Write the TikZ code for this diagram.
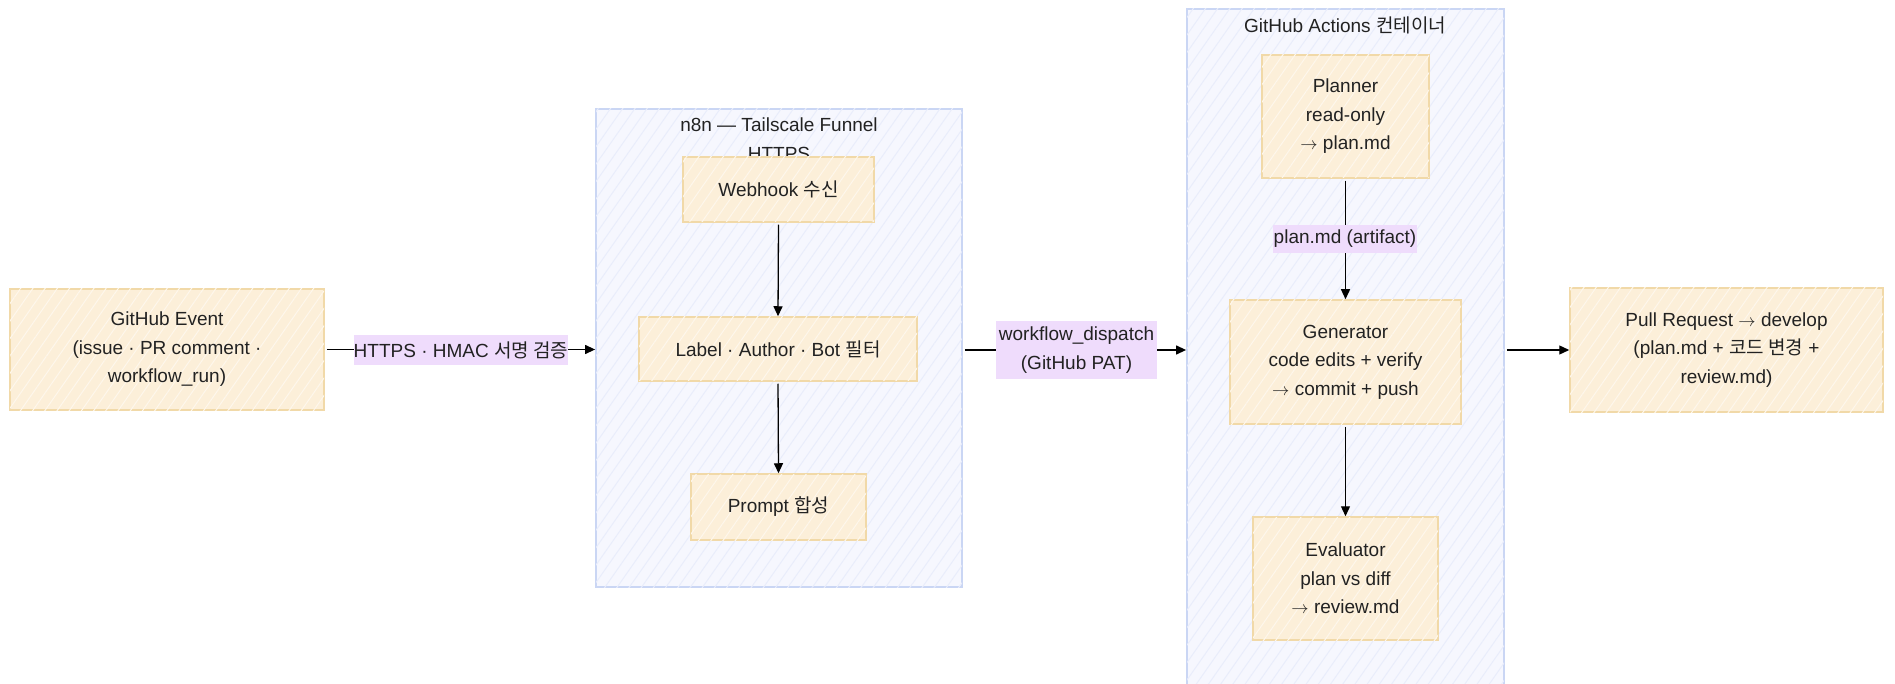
\documentclass[tikz,border=0pt]{standalone}
\usepackage{fontspec}
\setmainfont{Liberation Sans}
\newfontfamily\kr{Noto Sans CJK KR}
\usetikzlibrary{arrows.meta,patterns.meta}
\definecolor{boxfill}{HTML}{FCEFD9}
\definecolor{boxline}{HTML}{F1D9A8}
\definecolor{boxhatch}{HTML}{FEF7EC}
\definecolor{grpfill}{HTML}{F6F7FE}
\definecolor{grpline}{HTML}{CAD6F4}
\definecolor{grphatch}{HTML}{E9EDFB}
\definecolor{lblfill}{HTML}{EFDCFC}
\definecolor{txt}{HTML}{222222}
\newcommand\mytext{\fontsize{19}{28.5}\selectfont}
\newcommand\rarr{$\rightarrow$}
\tikzset{
  procbox/.style={draw=boxline, line width=1.5pt, fill=boxfill,
    postaction={pattern={Lines[angle=55,distance=10pt,line width=1pt]}, pattern color=boxhatch},
    align=center, inner sep=0pt, font=\mytext, text=txt},
  grpbox/.style={draw=grpline, line width=1.8pt, fill=grpfill,
    postaction={pattern={Lines[angle=55,distance=10pt,line width=1pt]}, pattern color=grphatch},
    inner sep=0pt},
  grptitle/.style={align=center, font=\mytext, text=txt, inner sep=0pt},
  edgelbl/.style={fill=lblfill, inner sep=0pt, align=center, font=\mytext, text=txt},
  arr/.style={draw=black, line width=1.3pt, -{Triangle[length=10pt,width=9pt]}, shorten <=2pt}
}
\begin{document}
\begin{tikzpicture}[x=1pt,y=-1pt]
\clip (0,0) rectangle (1895,684);
\fill[white] (0,0) rectangle (1895,684);

% containers
\node[grpbox, minimum width=366pt, minimum height=478pt] (n8n) at (779,348) {};
\node[grptitle] (n8nt) at (779,139) {n8n — Tailscale Funnel\\HTTPS};
\node[grpbox, minimum width=317pt, minimum height=691pt] (act) at (1345.5,354.5) {};
\node[grptitle] (actt) at (1345,25) {GitHub Actions {\kr 컨테이너}};

% nodes
\node[procbox, minimum width=314pt, minimum height=121pt] (ev) at (167,349.5)
  {GitHub Event\\(issue · PR comment ·\\workflow\_run)};
\node[procbox, minimum width=191pt, minimum height=65pt] (wh) at (778.5,189.5)
  {Webhook {\kr 수신}};
\node[procbox, minimum width=278pt, minimum height=64pt] (lab) at (778,349)
  {Label · Author · Bot {\kr 필터}};
\node[procbox, minimum width=175pt, minimum height=66pt] (pmt) at (778.5,507)
  {Prompt {\kr 합성}};
\node[procbox, minimum width=167pt, minimum height=123pt] (pl) at (1345.5,116.5)
  {Planner\\read-only\\\rarr{} plan.md};
\node[procbox, minimum width=231pt, minimum height=124pt] (gen) at (1345.5,362)
  {Generator\\code edits + verify\\\rarr{} commit + push};
\node[procbox, minimum width=185pt, minimum height=123pt] (eva) at (1345.5,578.5)
  {Evaluator\\plan vs diff\\\rarr{} review.md};
\node[procbox, minimum width=313pt, minimum height=124pt] (prq) at (1726.5,350)
  {Pull Request \rarr{} develop\\(plan.md + {\kr 코드 변경} +\\review.md)};

% connectors
\coordinate (mid) at (0,350);
\draw[arr] (ev.east) -- (ev.east -| n8n.west);
\draw[arr] (wh.south) -- (lab.north);
\draw[arr] (lab.south) -- (pmt.north);
\draw[arr] (mid -| n8n.east) -- (mid -| act.west);
\draw[arr] (pl.south) -- (gen.north);
\draw[arr] (gen.south) -- (eva.north);
\draw[arr] (mid -| act.east) -- (mid -| prq.west);

% edge labels
\node[edgelbl, minimum width=210pt, minimum height=30pt] (l1) at (461,350)
  {HTTPS · HMAC {\kr 서명 검증}};
\node[edgelbl, minimum width=161pt, minimum height=58pt] (l2) at (1076.5,350)
  {workflow\_dispatch\\(GitHub PAT)};
\node[edgelbl, minimum width=144pt, minimum height=28pt] (l3) at (1345,239)
  {plan.md (artifact)};
\end{tikzpicture}
\end{document}
